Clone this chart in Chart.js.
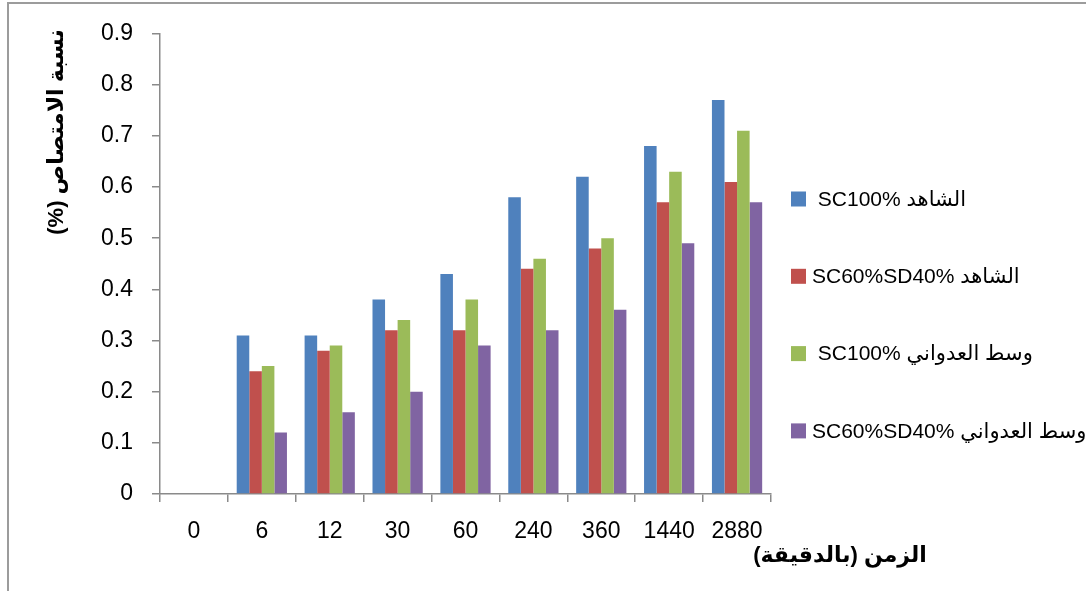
<!DOCTYPE html>
<html lang="ar">
<head>
<meta charset="utf-8">
<title>نسبة الامتصاص</title>
<script src="https://cdn.jsdelivr.net/npm/chart.js@4.4.1/dist/chart.umd.min.js"></script>
<style>
  html, body { margin: 0; padding: 0; background: #ffffff; }
  #wrap { width: 1086px; height: 591px; position: relative; }
</style>
</head>
<body>
<div id="wrap"><canvas id="chart" width="1086" height="591"></canvas></div>
<script>
// Time points (minutes)
const timeLabels = ['0', '6', '12', '30', '60', '240', '360', '1440', '2880'];

// Series names (display order of the Latin code and the Arabic medium name)
const seriesNames = [
  ' SC100% الشاهد',
  'SC60%SD40% الشاهد',
  ' SC100% وسط العدواني',
  'SC60%SD40% وسط العدواني'
];

// Absorption ratio (%) per series
const controlSC100 = [0, 0.31, 0.31, 0.38, 0.43, 0.58, 0.62, 0.68, 0.77];
const controlSC60SD40 = [0, 0.24, 0.28, 0.32, 0.32, 0.44, 0.48, 0.57, 0.61];
const mediumSC100 = [0, 0.25, 0.29, 0.34, 0.38, 0.46, 0.50, 0.63, 0.71];
const mediumSC60SD40 = [0, 0.12, 0.16, 0.20, 0.29, 0.32, 0.36, 0.49, 0.57];

const seriesColors = ['#4F81BD', '#C0504D', '#9BBB59', '#8064A2'];

const yTitle = 'نسبة الامتصاص (%)';
const xTitle = 'الزمن (بالدقيقة)';

const FONT = '"Liberation Sans", Arial, "DejaVu Sans", sans-serif';
const AXIS_COLOR = '#8a8a8a';

const seriesValues = [controlSC100, controlSC60SD40, mediumSC100, mediumSC60SD40];

// Frame, axis titles and the legend column on the right
const decorations = {
  id: 'decorations',
  afterDraw(chart) {
    const ctx = chart.ctx;
    ctx.save();

    // outer frame (top and left edges)
    ctx.strokeStyle = '#9c9c9c';
    ctx.lineWidth = 2;
    ctx.beginPath();
    ctx.moveTo(8, chart.height);
    ctx.lineTo(8, 3);
    ctx.lineTo(chart.width, 3);
    ctx.stroke();

    // y axis title, rotated
    ctx.fillStyle = '#000';
    ctx.font = 'bold 22px ' + FONT;
    ctx.direction = 'rtl';
    ctx.textBaseline = 'middle';
    ctx.textAlign = 'center';
    ctx.save();
    ctx.translate(57, 132);
    ctx.rotate(-Math.PI / 2);
    ctx.fillText(yTitle, 0, 0);
    ctx.restore();

    // x axis title
    ctx.font = 'bold 22px ' + FONT;
    ctx.fillText(xTitle, 840, 556);

    // legend
    ctx.direction = 'ltr';
    ctx.textAlign = 'left';
    ctx.font = '21px ' + FONT;
    chart.data.datasets.forEach((ds, i) => {
      const cy = 199 + i * 77.3;
      ctx.fillStyle = ds.backgroundColor;
      ctx.fillRect(791, cy - 7.5, 15, 15);
      ctx.fillStyle = '#000';
      ctx.fillText(ds.label, 812, cy + 1);
    });
    ctx.restore();
  }
};

new Chart(document.getElementById('chart'), {
  type: 'bar',
  data: {
    labels: timeLabels,
    datasets: seriesNames.map((name, i) => ({
      label: name,
      data: seriesValues[i],
      backgroundColor: seriesColors[i],
      borderWidth: 0,
      categoryPercentage: 0.74,
      barPercentage: 1.0
    }))
  },
  options: {
    responsive: false,
    devicePixelRatio: 1,
    animation: false,
    layout: { padding: { left: 0, right: 315, top: 33.5, bottom: 0 } },
    plugins: {
      legend: { display: false },
      tooltip: { enabled: false }
    },
    scales: {
      x: {
        grid: {
          display: true,
          drawOnChartArea: false,
          drawTicks: true,
          tickLength: 8,
          offset: true,
          color: AXIS_COLOR,
          lineWidth: 1.5
        },
        border: { display: true, color: AXIS_COLOR, width: 1.5 },
        ticks: { font: { size: 23, family: FONT }, color: '#000', padding: 16, maxRotation: 0 },
        afterFit(scale) { scale.height = 97; }
      },
      y: {
        min: 0,
        max: 0.9,
        ticks: { stepSize: 0.1, font: { size: 23, family: FONT }, color: '#000', padding: 19 },
        grid: {
          drawOnChartArea: false,
          drawTicks: true,
          tickLength: 8,
          color: AXIS_COLOR,
          lineWidth: 1.5
        },
        border: { display: true, color: AXIS_COLOR, width: 1.5 },
        afterFit(scale) { scale.width = 160; }
      }
    }
  },
  plugins: [decorations]
});
</script>
</body>
</html>
